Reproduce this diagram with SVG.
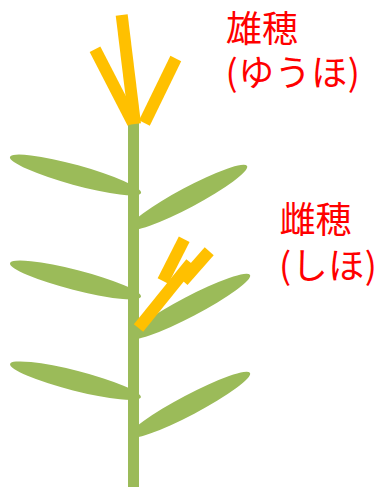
<svg xmlns="http://www.w3.org/2000/svg" width="376" height="488" viewBox="0 0 376 488">
  <style>
    .leaf { fill: #9BBB59; }
    .stem { fill: #9BBB59; }
    .spike { stroke: #FFC000; stroke-width: 12; stroke-linecap: butt; fill: none; }
    .label { fill: #FF0000; font-family: "Noto Sans CJK JP", "Noto Sans", sans-serif; font-size: 36px; }
    .paren { letter-spacing: 0.5px; }
  </style>

  <!-- leaves -->
  <g id="leaves">
    <ellipse class="leaf" cx="75.5" cy="175" rx="68" ry="10" transform="rotate(15.4 75.5 175)"/>
    <ellipse class="leaf" cx="75.5" cy="280" rx="67.6" ry="10" transform="rotate(14.4 75.5 280)"/>
    <ellipse class="leaf" cx="75.5" cy="380.7" rx="67.5" ry="10" transform="rotate(14.3 75.5 380.7)"/>
    <ellipse class="leaf" cx="188.2" cy="197.4" rx="66.7" ry="10" transform="rotate(-28 188.2 197.4)"/>
    <ellipse class="leaf" cx="189.6" cy="306.6" rx="68.2" ry="10" transform="rotate(-27.6 189.6 306.6)"/>
    <ellipse class="leaf" cx="189.6" cy="404.8" rx="68.3" ry="10" transform="rotate(-27.8 189.6 404.8)"/>
  </g>

  <!-- stalk -->
  <rect id="stem" class="stem" x="128" y="121" width="11" height="366"/>

  <!-- tassel at the top -->
  <g id="tassel">
    <line class="spike" x1="95" y1="49.2" x2="133" y2="123"/>
    <line class="spike" x1="175.8" y1="58.5" x2="144.4" y2="123"/>
    <line class="spike" x1="121.7" y1="15" x2="135" y2="124"/>
  </g>

  <!-- ear on the stalk -->
  <g id="ear">
    <line class="spike" x1="138.5" y1="328" x2="191" y2="263"/>
    <line class="spike" x1="184.2" y1="239.2" x2="163" y2="281"/>
    <line class="spike" x1="209.2" y1="251.3" x2="183" y2="281"/>
  </g>

  <!-- labels -->
  <g id="label-tassel">
    <text class="label" x="226" y="42">雄穂</text>
    <text class="label paren" x="225.5" y="86">(ゆうほ)</text>
  </g>
  <g id="label-ear">
    <text class="label" x="279.5" y="233">雌穂</text>
    <text class="label paren" x="279" y="279">(しほ)</text>
  </g>
</svg>
